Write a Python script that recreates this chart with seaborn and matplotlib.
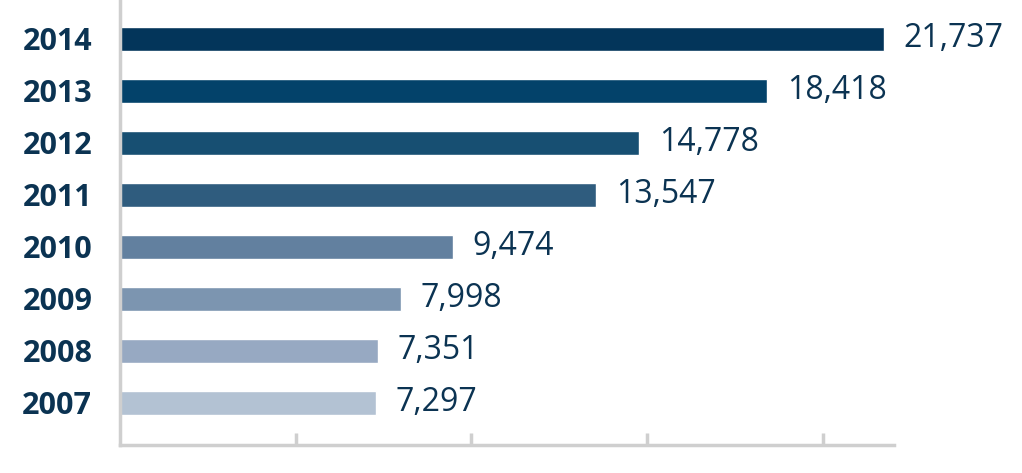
import pandas as pd
import seaborn as sns
import matplotlib.pyplot as plt

years = ['2014', '2013', '2012', '2011', '2010', '2009', '2008', '2007']
values = [21737, 18418, 14778, 13547, 9474, 7998, 7351, 7297]
bar_colors = ['#03355a', '#03426a', '#174f72', '#2f5c7e',
              '#62809f', '#7c95b0', '#97a9c2', '#b3c2d3']

text_color = '#0b3352'
spine_color = '#cfcfcf'

sns.set_theme(style='white')
plt.rcParams['font.family'] = ['Open Sans', 'DejaVu Sans']

df = pd.DataFrame({'year': years, 'value': values})

fig = plt.figure(figsize=(10.22, 4.73), dpi=100)
ax = fig.add_axes([120 / 1022, 28 / 473, 774 / 1022, 445 / 473])

sns.barplot(data=df, x='value', y='year', hue='year', order=years,
            palette=bar_colors, orient='h', width=0.47, legend=False,
            saturation=1, ax=ax)

# value labels right of each bar
for cont in ax.containers:
    ax.bar_label(cont, labels=[f'{int(round(v)):,}' for v in cont.datavalues],
                 padding=14, fontsize=23, color=text_color, clip_on=False)

ax.set_xlim(0, 22020)
ax.set_ylim(7.81, -0.75)
ax.set_xlabel('')
ax.set_ylabel('')

ax.set_xticks([5000, 10000, 15000, 20000])
ax.set_xticklabels([])
ax.tick_params(axis='x', direction='in', length=9, width=2.5, color=spine_color, bottom=True)
ax.tick_params(axis='y', length=0, pad=20)
for lbl in ax.get_yticklabels():
    lbl.set_fontsize(22)
    lbl.set_fontweight('bold')
    lbl.set_color(text_color)

sns.despine(ax=ax, top=True, right=True)
for side in ['left', 'bottom']:
    ax.spines[side].set_color(spine_color)
    ax.spines[side].set_linewidth(2.5)

fig.savefig('out.png', dpi=100)
